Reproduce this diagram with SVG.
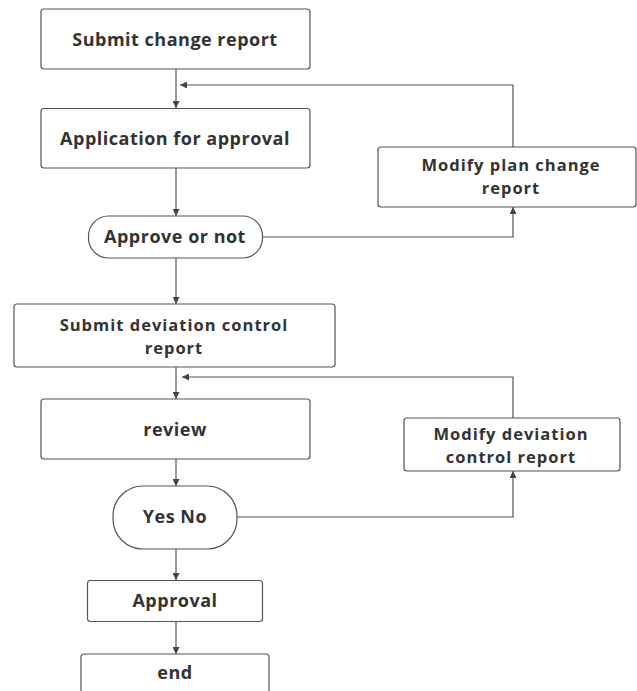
<svg xmlns="http://www.w3.org/2000/svg" width="637" height="691" viewBox="0 0 637 691">
<defs>
<marker id="ah" viewBox="0 0 10 10" refX="10" refY="5" markerWidth="7" markerHeight="7" markerUnits="userSpaceOnUse" orient="auto"><path d="M0,0 L10,5 L0,10 z" fill="#444"/></marker>
</defs>
<style>
.box{fill:#fff;stroke:#555;stroke-width:1.2}
.t{font-family:"Open Sans","Noto Sans","Liberation Sans",sans-serif;font-weight:bold;font-size:18px;letter-spacing:0.5px;fill:#333;text-anchor:middle}
.t2{font-size:16.5px;letter-spacing:1px}
.c{fill:none;stroke:#555;stroke-width:1.2;marker-end:url(#ah)}
</style>
<rect width="637" height="691" fill="#fff"/>
<g id="connectors">
<path class="c" d="M176,69 V108"/>
<path class="c" d="M176,168 V216"/>
<path class="c" d="M176,258 V304"/>
<path class="c" d="M176,367 V399"/>
<path class="c" d="M176,459 V486"/>
<path class="c" d="M176,549 V580"/>
<path class="c" d="M176,622 V654"/>
<path class="c" d="M262,237 H513 V207"/>
<path class="c" d="M513,147 V85 H180"/>
<path class="c" d="M237,517 H513 V471"/>
<path class="c" d="M513,418 V377 H182"/>
</g>
<g id="n1"><rect class="box" x="41" y="9" width="269" height="60" rx="3"/><text class="t" x="175" y="46">Submit change report</text></g>
<g id="n2"><rect class="box" x="41" y="108.5" width="269" height="59.5" rx="3"/><text class="t" x="175" y="145">Application for approval</text></g>
<g id="n3"><rect class="box" x="88.5" y="216" width="174" height="42" rx="20"/><text class="t" x="175" y="243">Approve or not</text></g>
<g id="n4"><rect class="box" x="378" y="147" width="258" height="60" rx="3"/><text class="t t2" x="511" y="171">Modify plan change</text><text class="t t2" x="511" y="193.5">report</text></g>
<g id="n5"><rect class="box" x="14" y="304" width="321" height="63" rx="3"/><text class="t t2" x="174" y="331">Submit deviation control</text><text class="t t2" x="174" y="353.5">report</text></g>
<g id="n6"><rect class="box" x="41" y="399" width="269" height="60" rx="3"/><text class="t" x="175" y="436">review</text></g>
<g id="n7"><rect class="box" x="404" y="418" width="216" height="53" rx="3"/><text class="t t2" x="511" y="440">Modify deviation</text><text class="t t2" x="511" y="462.5">control report</text></g>
<g id="n8"><rect class="box" x="113" y="486" width="124" height="63" rx="30"/><text class="t" x="175" y="523">Yes No</text></g>
<g id="n9"><rect class="box" x="87.5" y="580.5" width="175" height="41" rx="3"/><text class="t" x="175" y="607">Approval</text></g>
<g id="n10"><rect class="box" x="81" y="654" width="188" height="45" rx="3"/><text class="t" x="175" y="679">end</text></g>
</svg>
